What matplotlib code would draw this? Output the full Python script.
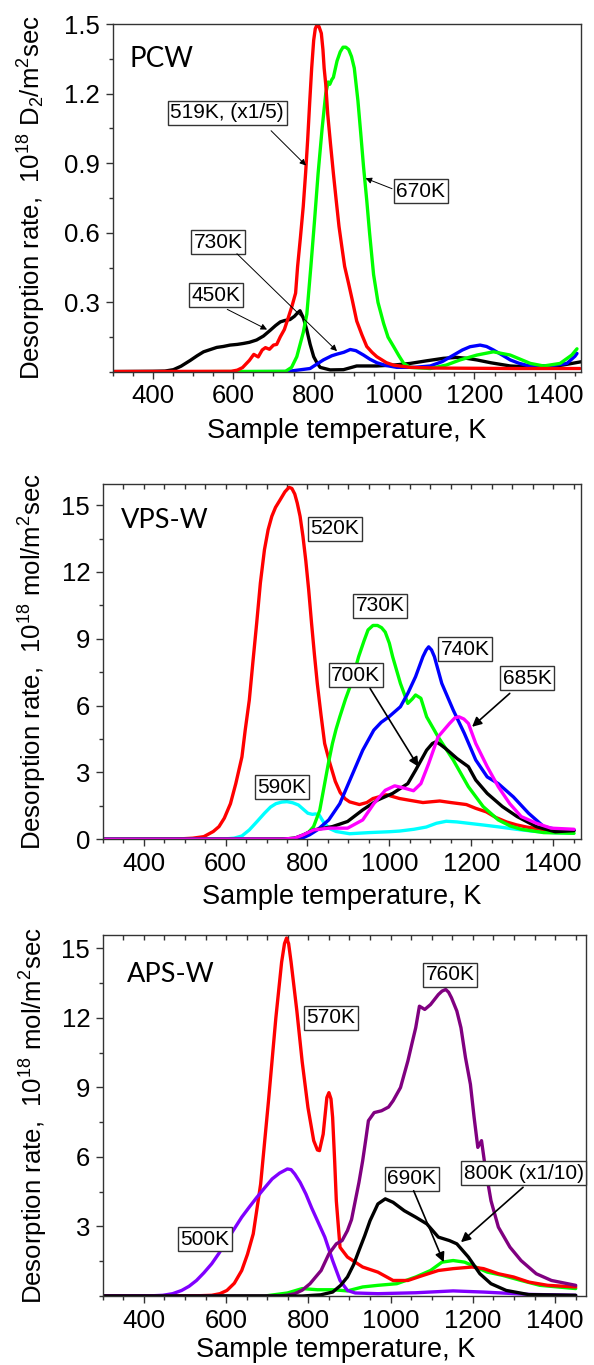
import numpy as np
import matplotlib
matplotlib.use("Agg")
import matplotlib.pyplot as plt
from matplotlib.ticker import MultipleLocator, FixedLocator

plt.rcParams['font.family'] = ['Liberation Sans', 'DejaVu Sans']
plt.rcParams['mathtext.fontset'] = 'custom'
plt.rcParams['mathtext.rm'] = 'Liberation Sans'
plt.rcParams['mathtext.it'] = 'Liberation Sans:italic'

# ---- data: (temperature K, desorption rate) ----
# PCW, 10^18 D2/m2 s
pcw_519 = [(300, 0.002), (595, 0.003), (610, 0.008), (623, 0.019), (640, 0.05), (651, 0.076),
           (662, 0.065), (672, 0.095), (680, 0.105), (690, 0.098), (700, 0.116), (708, 0.119),
           (717, 0.152), (727, 0.183), (736, 0.23), (746, 0.284), (755, 0.34), (760, 0.455),
           (767, 0.58), (774, 0.713), (780, 0.86), (785, 1.0), (790, 1.16), (795, 1.31),
           (800, 1.43), (804, 1.48), (808, 1.495), (813, 1.49), (819, 1.46), (823, 1.39),
           (826, 1.31), (830, 1.24), (835, 1.11), (842, 0.98), (849, 0.856), (856, 0.74),
           (863, 0.627), (870, 0.54), (877, 0.455), (887, 0.38), (896, 0.31), (907, 0.22),
           (920, 0.16), (932, 0.11), (945, 0.085), (957, 0.066), (981, 0.04), (1000, 0.029),
           (1040, 0.02), (1100, 0.017), (1200, 0.016), (1300, 0.015), (1400, 0.015),
           (1462, 0.015)]
pcw_670 = [(300, 0.0), (730, 0.003), (745, 0.02), (758, 0.066), (774, 0.17), (783, 0.25),
           (793, 0.455), (802, 0.65), (811, 0.856), (821, 1.05), (830, 1.2), (836, 1.25),
           (840, 1.24), (845, 1.26), (849, 1.27), (858, 1.34), (866, 1.38), (873, 1.40),
           (880, 1.40), (887, 1.39), (894, 1.36), (901, 1.31), (910, 1.17), (917, 1.03),
           (924, 0.885), (932, 0.74), (939, 0.6), (949, 0.42), (960, 0.3), (974, 0.209),
           (985, 0.15), (999, 0.109), (1012, 0.07), (1024, 0.037), (1040, 0.02), (1090, 0.015),
           (1130, 0.03), (1164, 0.052), (1206, 0.073), (1247, 0.087), (1289, 0.073),
           (1339, 0.037), (1372, 0.026), (1413, 0.037), (1442, 0.073), (1455, 0.1)]
pcw_730 = [(300, 0.0), (733, 0.002), (791, 0.015), (824, 0.052), (845, 0.07), (858, 0.077),
           (875, 0.085), (891, 0.097), (905, 0.092), (924, 0.073), (940, 0.055), (957, 0.04),
           (980, 0.028), (1007, 0.02), (1050, 0.02), (1090, 0.026), (1120, 0.045),
           (1148, 0.073), (1170, 0.095), (1189, 0.109), (1214, 0.116), (1230, 0.11),
           (1247, 0.095), (1270, 0.072), (1289, 0.052), (1310, 0.038), (1330, 0.029),
           (1388, 0.026), (1430, 0.037), (1450, 0.068), (1455, 0.08)]
pcw_450 = [(300, 0.002), (400, 0.003), (430, 0.004), (451, 0.01), (470, 0.025), (493, 0.05),
           (510, 0.07), (526, 0.087), (545, 0.098), (559, 0.106), (575, 0.11), (592, 0.116),
           (610, 0.119), (625, 0.123), (640, 0.128), (658, 0.138), (675, 0.155), (692, 0.18),
           (705, 0.2), (717, 0.216), (728, 0.222), (741, 0.226), (752, 0.24), (760, 0.255),
           (766, 0.264), (775, 0.23), (783, 0.18), (791, 0.12), (800, 0.066), (808, 0.04),
           (816, 0.02), (841, 0.009), (874, 0.01), (907, 0.026), (957, 0.026), (1000, 0.03),
           (1040, 0.037), (1080, 0.048), (1123, 0.059), (1156, 0.063), (1180, 0.059),
           (1206, 0.052), (1240, 0.04), (1289, 0.026), (1330, 0.022), (1372, 0.02),
           (1420, 0.03), (1465, 0.044)]

# VPS-W, 10^18 mol/m2 s
vps_520 = [(300, 0.0), (480, 0.01), (520, 0.05), (547, 0.12), (570, 0.35), (584, 0.57),
           (597, 0.95), (612, 1.6), (625, 2.5), (640, 3.7), (648, 4.9), (658, 6.25),
           (667, 8.0), (676, 9.7), (685, 11.5), (695, 13.0), (704, 13.9), (713, 14.5),
           (722, 14.9), (732, 15.2), (745, 15.6), (755, 15.8), (762, 15.75), (769, 15.5),
           (775, 15.1), (782, 14.5), (789, 13.6), (796, 12.5), (803, 11.2), (810, 9.7),
           (817, 8.3), (824, 7.0), (833, 5.6), (842, 4.3), (855, 3.4), (868, 2.6), (880, 2.1),
           (892, 1.82), (903, 1.68), (927, 1.56), (945, 1.65), (960, 1.83), (993, 2.0),
           (1025, 1.83), (1050, 1.75), (1082, 1.65), (1123, 1.72), (1150, 1.65), (1188, 1.56),
           (1211, 1.39), (1237, 1.23), (1260, 0.98), (1286, 0.78), (1310, 0.65), (1335, 0.55),
           (1370, 0.45), (1400, 0.38), (1450, 0.37)]
vps_590 = [(300, 0.0), (600, 0.02), (621, 0.05), (640, 0.15), (658, 0.42), (677, 0.8),
           (695, 1.17), (710, 1.45), (723, 1.6), (737, 1.67), (750, 1.69), (764, 1.64),
           (778, 1.54), (801, 1.17), (812, 1.12), (820, 1.14), (829, 1.08), (840, 0.75),
           (854, 0.48), (870, 0.35), (903, 0.25), (950, 0.3), (1000, 0.34), (1025, 0.37),
           (1060, 0.45), (1090, 0.55), (1115, 0.72), (1139, 0.81), (1165, 0.78), (1188, 0.73),
           (1230, 0.64), (1270, 0.55), (1310, 0.45), (1352, 0.36), (1400, 0.3), (1450, 0.28)]
vps_730 = [(300, 0.0), (700, 0.005), (750, 0.02), (770, 0.05), (787, 0.12), (802, 0.3),
           (815, 0.57), (830, 1.3), (842, 2.5), (851, 3.4), (861, 4.3), (870, 4.95), (879, 5.5),
           (893, 6.3), (907, 7.0), (925, 8.2), (938, 8.9), (948, 9.4), (960, 9.6), (971, 9.6),
           (981, 9.5), (990, 9.3), (1000, 8.8), (1008, 8.2), (1027, 7.0), (1045, 6.1),
           (1056, 6.3), (1064, 6.48), (1077, 6.33), (1091, 5.5), (1119, 4.6), (1156, 3.56),
           (1193, 2.36), (1229, 1.47), (1266, 0.87), (1295, 0.6), (1322, 0.45), (1377, 0.3),
           (1451, 0.27)]
vps_740 = [(300, 0.0), (740, 0.005), (787, 0.05), (805, 0.2), (824, 0.42), (852, 0.87),
           (879, 1.6), (907, 2.8), (935, 4.0), (962, 4.9), (980, 5.25), (999, 5.5), (1027, 5.95),
           (1045, 6.55), (1064, 7.3), (1082, 8.2), (1090, 8.5), (1096, 8.64), (1103, 8.5),
           (1110, 8.2), (1128, 7.0), (1156, 5.8), (1183, 4.76), (1211, 3.56), (1239, 2.8),
           (1266, 2.5), (1303, 1.9), (1340, 1.17), (1377, 0.57), (1414, 0.42), (1451, 0.42)]
vps_700 = [(300, 0.0), (740, 0.01), (769, 0.05), (790, 0.2), (815, 0.42), (861, 0.57),
           (898, 0.8), (935, 1.32), (971, 1.76), (1008, 2.06), (1045, 2.5), (1064, 3.1),
           (1091, 4.0), (1105, 4.3), (1114, 4.38), (1125, 4.25), (1137, 4.08), (1165, 3.63),
           (1193, 3.26), (1211, 2.66), (1239, 2.06), (1276, 1.47), (1312, 1.02), (1359, 0.57),
           (1405, 0.34), (1451, 0.39)]
vps_685 = [(300, 0.0), (740, 0.01), (769, 0.05), (790, 0.2), (815, 0.42), (852, 0.5),
           (898, 0.5), (935, 0.87), (962, 1.6), (990, 2.2), (1013, 2.4), (1036, 2.3),
           (1059, 2.18), (1077, 2.5), (1096, 3.4), (1119, 4.6), (1147, 5.2), (1160, 5.45),
           (1170, 5.5), (1182, 5.4), (1193, 5.2), (1211, 4.3), (1239, 3.26), (1266, 2.36),
           (1294, 1.6), (1322, 1.02), (1359, 0.72), (1395, 0.5), (1451, 0.45)]

# APS-W, 10^18 mol/m2 s
aps_570 = [(300, 0.0), (530, 0.01), (565, 0.03), (585, 0.1), (602, 0.24), (620, 0.55),
           (638, 1.1), (652, 1.8), (666, 2.68), (684, 4.83), (703, 8.4), (721, 12.0),
           (735, 14.4), (742, 15.2), (747, 15.44), (752, 15.2), (758, 14.4), (772, 12.3),
           (785, 10.1), (799, 8.13), (813, 6.7), (822, 6.3), (827, 6.27), (836, 6.98),
           (845, 8.56), (850, 8.77), (855, 8.5), (859, 7.7), (864, 5.8), (868, 4.1), (877, 2.1),
           (895, 1.68), (932, 1.25), (969, 1.03), (1006, 0.67), (1042, 0.67), (1079, 0.89),
           (1116, 1.1), (1152, 1.18), (1198, 1.25), (1226, 1.18), (1262, 0.96), (1299, 0.82),
           (1336, 0.6), (1382, 0.46), (1450, 0.39)]
aps_500 = [(300, 0.0), (420, 0.01), (446, 0.03), (470, 0.1), (492, 0.24), (510, 0.42),
           (528, 0.67), (546, 1.0), (565, 1.39), (583, 1.85), (602, 2.4), (620, 2.9),
           (638, 3.4), (657, 3.85), (675, 4.26), (693, 4.65), (712, 5.05), (730, 5.3),
           (749, 5.48), (758, 5.45), (767, 5.26), (780, 4.9), (794, 4.4), (808, 3.8),
           (822, 3.25), (840, 2.54), (859, 1.53), (877, 0.67), (895, 0.24), (914, 0.13),
           (969, 0.1), (1061, 0.14), (1152, 0.22), (1226, 0.17), (1336, 0.07), (1450, 0.03)]
aps_760 = [(300, 0.0), (730, 0.0), (750, 0.04), (767, 0.1), (785, 0.25), (804, 0.53),
           (831, 1.1), (850, 1.82), (868, 2.25), (882, 2.39), (895, 2.82), (905, 3.3),
           (914, 4.1), (923, 4.9), (932, 5.83), (940, 6.8), (946, 7.56), (960, 7.91),
           (978, 7.99), (995, 8.15), (1006, 8.42), (1024, 8.99), (1042, 10.14), (1052, 10.9),
           (1061, 11.57), (1070, 12.5), (1083, 12.36), (1097, 12.57), (1116, 13.0),
           (1125, 13.15), (1134, 13.22), (1141, 13.1), (1148, 12.86), (1161, 12.29),
           (1171, 11.57), (1182, 10.28), (1194, 9.13), (1203, 7.7), (1212, 6.41), (1221, 6.7),
           (1230, 5.55), (1244, 4.11), (1262, 2.97), (1290, 2.11), (1317, 1.53), (1354, 0.96),
           (1391, 0.67), (1450, 0.46)]
aps_690 = [(300, 0.0), (785, 0.0), (830, 0.05), (859, 0.17), (878, 0.45), (895, 0.82),
           (910, 1.35), (923, 1.96), (937, 2.6), (950, 3.25), (969, 3.97), (987, 4.19),
           (1006, 4.04), (1033, 3.68), (1061, 3.4), (1088, 3.11), (1116, 2.54), (1143, 2.39),
           (1161, 2.25), (1189, 1.68), (1217, 0.96), (1244, 0.53), (1281, 0.24), (1336, 0.06),
           (1450, 0.03)]
aps_800 = [(300, 0.0), (694, 0.0), (749, 0.13), (785, 0.32), (822, 0.27), (859, 0.27),
           (895, 0.22), (932, 0.39), (969, 0.46), (1015, 0.53), (1061, 0.82), (1097, 1.1),
           (1125, 1.46), (1152, 1.53), (1180, 1.46), (1207, 1.25), (1235, 1.03), (1272, 0.89),
           (1317, 0.67), (1363, 0.46), (1450, 0.32)]

W, H = 594, 1365


def px_axes(left, right, top, bottom):
    """axes rectangle from pixel edges of the reference"""
    return [left / W, 1 - bottom / H, (right - left) / W, (bottom - top) / H]


def style_axes(ax, xlim, ylim, yticks, yfmt, ymin_step, top_ticks):
    ax.set_xlim(*xlim)
    ax.set_ylim(*ylim)
    ax.xaxis.set_major_locator(FixedLocator([400, 600, 800, 1000, 1200, 1400]))
    ax.xaxis.set_minor_locator(MultipleLocator(50))
    ax.yaxis.set_major_locator(FixedLocator(yticks))
    ax.yaxis.set_minor_locator(MultipleLocator(ymin_step))
    ax.set_yticklabels([yfmt.format(v) for v in yticks])
    ax.tick_params(which='both', direction='out', labelsize=18.5, width=1,
                   top=False, right=False, pad=4, color='#333333')
    ax.tick_params(which='major', length=5)
    ax.tick_params(which='minor', length=3)
    for s in ax.spines.values():
        s.set_color('#333333')
        s.set_linewidth(1)
    if top_ticks:
        sec = ax.secondary_xaxis('top')
        sec.set_xticks(np.arange(350, 1451, 50))
        sec.tick_params(direction='in', length=3.5, width=1, labeltop=False, color='#333333')
        sec.spines['top'].set_visible(False)


def label_box(ax, x, y, s):
    ax.text(x, y, s, ha='center', va='center', fontsize=15, zorder=5,
            bbox=dict(boxstyle='square,pad=0.12', fc='white', ec='#333333', lw=1))


def arrow(ax, start, tip, lw=0.8, head=10):
    ax.annotate('', xy=tip, xytext=start, zorder=6,
                arrowprops=dict(arrowstyle='-|>', color='black', lw=lw,
                                mutation_scale=head, shrinkA=0, shrinkB=0))


def plot_curves(ax, curves):
    for data, color in curves:
        arr = np.array(data)
        ax.plot(arr[:, 0], arr[:, 1], color=color, lw=2.4,
                solid_joinstyle='round', solid_capstyle='round')


def fig_text(x, y, s, **kw):
    plt.gcf().text(x / W, 1 - y / H, s, **kw)


def main():
    fig = plt.figure(figsize=(W / 100, H / 100), dpi=100)

    # ---- PCW ----
    ax1 = fig.add_axes(px_axes(112.7, 581, 24, 372))
    plot_curves(ax1, [(pcw_450, 'black'), (pcw_730, '#0000ff'), (pcw_670, '#00ff00'),
                      (pcw_519, '#ff0000')])
    style_axes(ax1, (300, 1465), (0, 1.5), [0.3, 0.6, 0.9, 1.2, 1.5], '{:.1f}', 0.15, False)
    label_box(ax1, 585, 1.118, '519K, (x1/5)')
    arrow(ax1, (694, 1.04), (781, 0.89), lw=0.7, head=9)
    label_box(ax1, 1066, 0.78, '670K')
    arrow(ax1, (995, 0.79), (929, 0.835), lw=0.7, head=9)
    label_box(ax1, 562, 0.56, '730K')
    arrow(ax1, (609, 0.51), (858, 0.09), lw=0.7, head=9)
    label_box(ax1, 558, 0.33, '450K')
    arrow(ax1, (585, 0.27), (684, 0.183), lw=0.7, head=9)
    fig_text(129, 66.7, 'PCW', fontsize=20, family=['Lato', 'DejaVu Sans'], va='baseline')
    fig_text(32, 198, r'Desorption rate,  10$^{18}$ D$_2$/m$^2$sec', fontsize=18.5,
             rotation=90, ha='center', va='center')
    fig_text(347, 431, 'Sample temperature, K', fontsize=19.5, ha='center', va='center')

    # ---- VPS-W ----
    ax2 = fig.add_axes(px_axes(102.7, 581, 484, 839.3))
    plot_curves(ax2, [(vps_590, '#00ffff'), (vps_520, '#ff0000'), (vps_730, '#00ff00'),
                      (vps_740, '#0000ff'), (vps_700, 'black'), (vps_685, '#ff00ff')])
    style_axes(ax2, (300, 1468), (0, 15.95), [0, 3, 6, 9, 12, 15], '{:d}', 1.5, True)
    label_box(ax2, 867, 13.95, '520K')
    label_box(ax2, 978, 10.48, '730K')
    label_box(ax2, 1185, 8.54, '740K')
    label_box(ax2, 918, 7.37, '700K')
    arrow(ax2, (953, 6.77), (1071, 3.26), lw=1.2, head=14)
    label_box(ax2, 1337, 7.22, '685K')
    arrow(ax2, (1294, 6.55), (1202, 5.05), lw=1.2, head=14)
    label_box(ax2, 738, 2.33, '590K')
    fig_text(120.7, 528.3, 'VPS-W', fontsize=19.5, family=['Lato', 'DejaVu Sans'], va='baseline')
    fig_text(33, 662, r'Desorption rate,  10$^{18}$ mol/m$^2$sec', fontsize=18.5,
             rotation=90, ha='center', va='center')
    fig_text(342, 897, 'Sample temperature, K', fontsize=19.5, ha='center', va='center')

    # ---- APS-W ----
    ax3 = fig.add_axes(px_axes(102.7, 586, 935, 1296))
    plot_curves(ax3, [(aps_800, '#00ff00'), (aps_570, '#ff0000'), (aps_500, '#8000ff'),
                      (aps_760, '#800080'), (aps_690, 'black')])
    style_axes(ax3, (300, 1475), (0, 15.57), [3, 6, 9, 12, 15], '{:d}', 1.5, True)
    label_box(ax3, 854, 12.0, '570K')
    label_box(ax3, 1145, 13.86, '760K')
    label_box(ax3, 1051, 5.05, '690K')
    arrow(ax3, (1056, 4.54), (1129, 1.46), lw=1.2, head=14)
    label_box(ax3, 1324, 5.3, '800K (x1/10)')
    arrow(ax3, (1322, 4.69), (1171, 2.32), lw=1.2, head=14)
    label_box(ax3, 549, 2.44, '500K')
    fig_text(126.7, 981.7, 'APS-W', fontsize=19.5, family=['Lato', 'DejaVu Sans'], va='baseline')
    fig_text(34, 1116, r'Desorption rate,  10$^{18}$ mol/m$^2$sec', fontsize=18.5,
             rotation=90, ha='center', va='center')
    fig_text(336, 1350, 'Sample temperature, K', fontsize=19.5, ha='center', va='center')

    fig.savefig('out.png', dpi=100, facecolor='white')


if __name__ == "__main__":
    main()
